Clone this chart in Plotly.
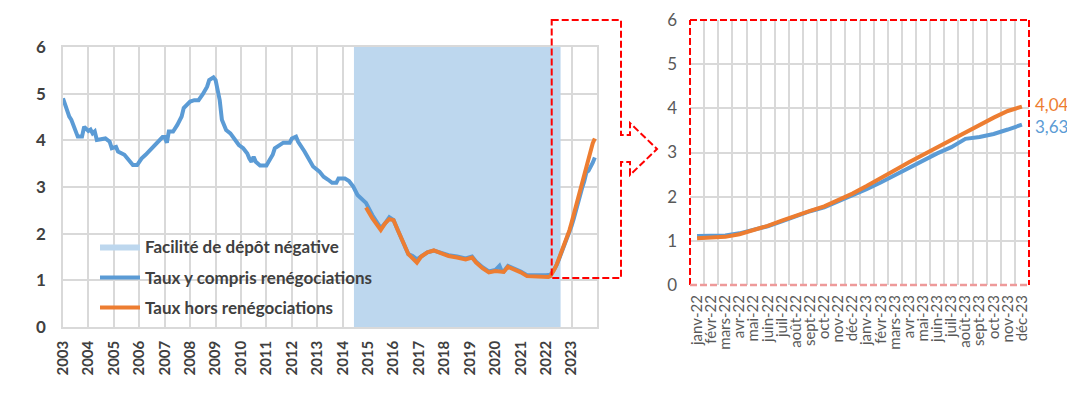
import plotly.graph_objects as go

# page body has an 8px margin: figure is sized to the visible area and
# reference pixel coordinates are shifted by that offset
OFF = 8
W, H = 1075 - OFF, 393 - OFF

# ---------------- data ----------------
# Right panel (monthly, Jan 2022 - Dec 2023)
months_fr = ["janv-22", "févr-22", "mars-22", "avr-22", "mai-22", "juin-22", "juil-22", "août-22",
             "sept-22", "oct-22", "nov-22", "déc-22", "janv-23", "févr-23", "mars-23", "avr-23",
             "mai-23", "juin-23", "juil-23", "août-23", "sept-23", "oct-23", "nov-23", "déc-23"]
blue_2223 = [1.11, 1.11, 1.12, 1.17, 1.24, 1.33, 1.44, 1.56, 1.67, 1.76, 1.89, 2.02,
             2.17, 2.32, 2.49, 2.66, 2.83, 2.98, 3.12, 3.31, 3.35, 3.42, 3.52, 3.63]
orange_2223 = [1.06, 1.07, 1.09, 1.15, 1.24, 1.34, 1.46, 1.58, 1.68, 1.78, 1.92, 2.07,
               2.24, 2.41, 2.60, 2.78, 2.95, 3.11, 3.29, 3.46, 3.64, 3.79, 3.94, 4.04]
dates_2223 = [f"{y}-{m:02d}-01" for y in (2022, 2023) for m in range(1, 13)]

# Left panel, long history (readings before 2022)
blue_dates_early = ["2003-01", "2003-02", "2003-04", "2003-05", "2003-07", "2003-08", "2003-10", "2003-11",
                    "2004-01", "2004-02", "2004-03", "2004-04", "2004-05", "2004-08", "2004-09", "2004-11",
                    "2004-12", "2005-02", "2005-03", "2005-06", "2005-08", "2005-10", "2005-12", "2006-02",
                    "2006-04", "2006-07", "2006-10", "2006-12", "2007-01", "2007-02", "2007-03", "2007-05",
                    "2007-07", "2007-09", "2007-10", "2008-01", "2008-03", "2008-05", "2008-07", "2008-09",
                    "2008-10", "2008-12", "2009-01", "2009-03", "2009-04", "2009-06", "2009-08", "2009-10",
                    "2009-12", "2010-02", "2010-04", "2010-05", "2010-06", "2010-07", "2010-08", "2010-10",
                    "2011-01", "2011-02", "2011-04", "2011-05", "2011-07", "2011-09", "2011-12", "2012-01",
                    "2012-03", "2012-04", "2012-07", "2012-09", "2012-11", "2013-02", "2013-04", "2013-06",
                    "2013-08", "2013-10", "2013-11", "2014-02", "2014-04", "2014-06", "2014-08", "2014-12",
                    "2015-03", "2015-07", "2015-09", "2015-11", "2016-01", "2016-03", "2016-06", "2016-08",
                    "2016-10", "2016-12", "2017-02", "2017-05", "2017-08", "2017-12", "2018-03", "2018-07",
                    "2018-11", "2019-02", "2019-04", "2019-07", "2019-10", "2020-01", "2020-03", "2020-04",
                    "2020-05", "2020-07", "2020-10", "2021-01", "2021-04", "2021-08", "2021-11"]
blue_vals_early = [4.90, 4.76, 4.51, 4.44, 4.19, 4.08, 4.08, 4.29,
                   4.20, 4.23, 4.15, 4.19, 4.01, 4.02, 4.04, 3.97,
                   3.83, 3.86, 3.76, 3.69, 3.58, 3.47, 3.47, 3.61,
                   3.69, 3.83, 3.97, 4.07, 4.07, 3.95, 4.19, 4.19,
                   4.33, 4.51, 4.69, 4.83, 4.86, 4.86, 4.99, 5.15,
                   5.29, 5.35, 5.29, 4.86, 4.44, 4.22, 4.15, 4.04,
                   3.90, 3.83, 3.72, 3.61, 3.54, 3.65, 3.54, 3.46,
                   3.46, 3.54, 3.69, 3.83, 3.90, 3.95, 3.95, 4.04,
                   4.08, 3.97, 3.76, 3.61, 3.44, 3.33, 3.22, 3.16,
                   3.09, 3.09, 3.18, 3.18, 3.13, 3.01, 2.83, 2.66,
                   2.40, 2.12, 2.22, 2.35, 2.29, 2.08, 1.76, 1.56,
                   1.52, 1.45, 1.51, 1.60, 1.64, 1.58, 1.54, 1.51,
                   1.47, 1.51, 1.40, 1.28, 1.19, 1.22, 1.31, 1.20,
                   1.19, 1.31, 1.26, 1.19, 1.11, 1.10, 1.11]
orange_dates_early = ["2014-12", "2015-03", "2015-07", "2015-09", "2015-11", "2016-01", "2016-03", "2016-06",
                      "2016-08", "2016-10", "2016-12", "2017-02", "2017-05", "2017-08", "2017-12", "2018-03",
                      "2018-07", "2018-11", "2019-02", "2019-04", "2019-07", "2019-10", "2020-01", "2020-03",
                      "2020-05", "2020-07", "2020-10", "2021-01", "2021-04", "2021-08", "2021-11"]
orange_vals_early = [2.56, 2.33, 2.08, 2.22, 2.31, 2.29, 2.08, 1.76,
                     1.56, 1.47, 1.38, 1.51, 1.60, 1.64, 1.56, 1.52,
                     1.49, 1.45, 1.49, 1.38, 1.26, 1.17, 1.20, 1.20,
                     1.18, 1.29, 1.24, 1.17, 1.09, 1.08, 1.07]

neg_rate_start, neg_rate_end = "2014-06-11", "2022-07-27"
year_ticks = [f"{y}-01-01" for y in range(2003, 2024)]
year_labels = [str(y) for y in range(2003, 2024)]

name_shade = "Facilité de dépôt négative"
name_blue = "Taux y compris renégociations"
name_orange = "Taux hors renégociations"

BLUE = "#5B9BD5"
ORANGE = "#ED7D31"
SHADE = "#BDD7EE"
GRID = "#D9D9D9"
TXT = "#404040"
TXT2 = "#595959"
FONT = "Lato"
LW = 4

# ---------------- figure ----------------
fig = go.Figure()

fig.add_trace(go.Scatter(
    x=[neg_rate_start, neg_rate_start, neg_rate_end, neg_rate_end, neg_rate_start],
    y=[0, 6, 6, 0, 0], fill="toself", fillcolor=SHADE, mode="lines",
    line=dict(width=0, color=SHADE), name=name_shade, legend="legend",
    xaxis="x", yaxis="y", hoverinfo="skip"))

fig.add_trace(go.Scatter(
    x=blue_dates_early + dates_2223, y=blue_vals_early + blue_2223, mode="lines",
    line=dict(color=BLUE, width=LW), name=name_blue, legend="legend2",
    xaxis="x", yaxis="y"))
fig.add_trace(go.Scatter(
    x=orange_dates_early + dates_2223, y=orange_vals_early + orange_2223, mode="lines",
    line=dict(color=ORANGE, width=LW), name=name_orange, legend="legend3",
    xaxis="x", yaxis="y"))

# right panel
fig.add_trace(go.Scatter(x=months_fr, y=blue_2223, mode="lines",
                         line=dict(color=BLUE, width=LW), showlegend=False,
                         xaxis="x2", yaxis="y2"))
fig.add_trace(go.Scatter(x=months_fr, y=orange_2223, mode="lines",
                         line=dict(color=ORANGE, width=LW), showlegend=False,
                         xaxis="x2", yaxis="y2"))


def px(x):
    return (x - OFF) / W


def py(y):
    return 1 - (y - OFF) / H


legend_common = dict(xanchor="left", yanchor="middle", bgcolor="rgba(0,0,0,0)",
                     font=dict(family=FONT, size=17, color=TXT, weight="bold"),
                     itemwidth=40)

fig.update_layout(
    width=W, height=H,
    margin=dict(l=0, r=0, t=0, b=0),
    paper_bgcolor="white", plot_bgcolor="white",
    font=dict(family=FONT),
    xaxis=dict(domain=[px(63), px(597)], type="date",
               range=["2003-01-01", "2024-01-01"],
               tickvals=year_ticks, ticktext=year_labels, tickangle=-90,
               showgrid=True, gridcolor=GRID, gridwidth=1.5,
               showline=True, linecolor=GRID, linewidth=1.5, mirror=True,
               ticks="", ticklabelstandoff=6, automargin=False,
               tickfont=dict(family=FONT, size=15, color=TXT, weight="bold"),
               zeroline=False),
    yaxis=dict(domain=[py(327), py(47)], range=[0, 6], dtick=1,
               showgrid=True, gridcolor=GRID, gridwidth=1.5,
               showline=True, linecolor=GRID, linewidth=1.5, mirror=True,
               ticks="", ticklabelstandoff=12, automargin=False,
               tickfont=dict(family=FONT, size=17, color=TXT, weight="bold"),
               zeroline=False),
    xaxis2=dict(domain=[px(690), px(1029)], type="category", anchor="y2",
                tickmode="array", tickvals=months_fr, ticktext=months_fr,
                tickson="boundaries", tickangle=-90,
                showgrid=True, gridcolor=GRID, gridwidth=1.5,
                ticks="", ticklabelstandoff=6, automargin=False,
                tickfont=dict(family=FONT, size=15, color=TXT2),
                range=[-0.5, 23.5], zeroline=False),
    yaxis2=dict(domain=[py(285), py(20)], range=[0, 6], dtick=1, anchor="x2",
                showgrid=True, gridcolor=GRID, gridwidth=1.5,
                ticks="", ticklabelstandoff=12, automargin=False,
                tickfont=dict(family=FONT, size=17, color=TXT2),
                zeroline=False),
    legend=dict(x=px(95), y=py(247), **legend_common),
    legend2=dict(x=px(95), y=py(278), **legend_common),
    legend3=dict(x=px(95), y=py(308), **legend_common),
)

# end-value labels on the right panel
fig.add_annotation(x=months_fr[-1], y=orange_2223[-1], xref="x2", yref="y2",
                   text=f"{orange_2223[-1]:.2f}".replace(".", ","), showarrow=False,
                   xanchor="left", xshift=11, yshift=2,
                   font=dict(family=FONT, size=17, color=ORANGE))
fig.add_annotation(x=months_fr[-1], y=blue_2223[-1], xref="x2", yref="y2",
                   text=f"{blue_2223[-1]:.2f}".replace(".", ","), showarrow=False,
                   xanchor="left", xshift=11, yshift=-2,
                   font=dict(family=FONT, size=17, color=BLUE))

# dashed red zoom frame on the right panel
RED = "#FF0000"
dash = "7px,3px"
for (x0, y0, x1, y1) in [(0, 0, 0, 1), (0, 1, 1, 1), (1, 1, 1, 0)]:
    fig.add_shape(type="line", xref="x2 domain", yref="y2 domain", x0=x0, y0=y0, x1=x1, y1=y1,
                  line=dict(color=RED, width=2, dash=dash), layer="above")
fig.add_shape(type="line", xref="x2 domain", yref="y2 domain", x0=0, y0=0, x1=1, y1=0,
              line=dict(color="#EE9A9A", width=2.5, dash=dash), layer="above")

# dashed selection box + arrow on the left panel (decoration, in paper coordinates)
pts = [(551.7, 20), (621, 20), (621, 135), (630, 135), (630, 123), (657, 149),
       (630, 175), (630, 162), (621, 162), (621, 278), (551.7, 278)]
path = "M " + " L ".join(f"{px(a):.5f},{py(b):.5f}" for a, b in pts) + " Z"
fig.add_shape(type="path", xref="paper", yref="paper", path=path,
              line=dict(color=RED, width=2, dash=dash), layer="above")

fig.write_html("out.html")
